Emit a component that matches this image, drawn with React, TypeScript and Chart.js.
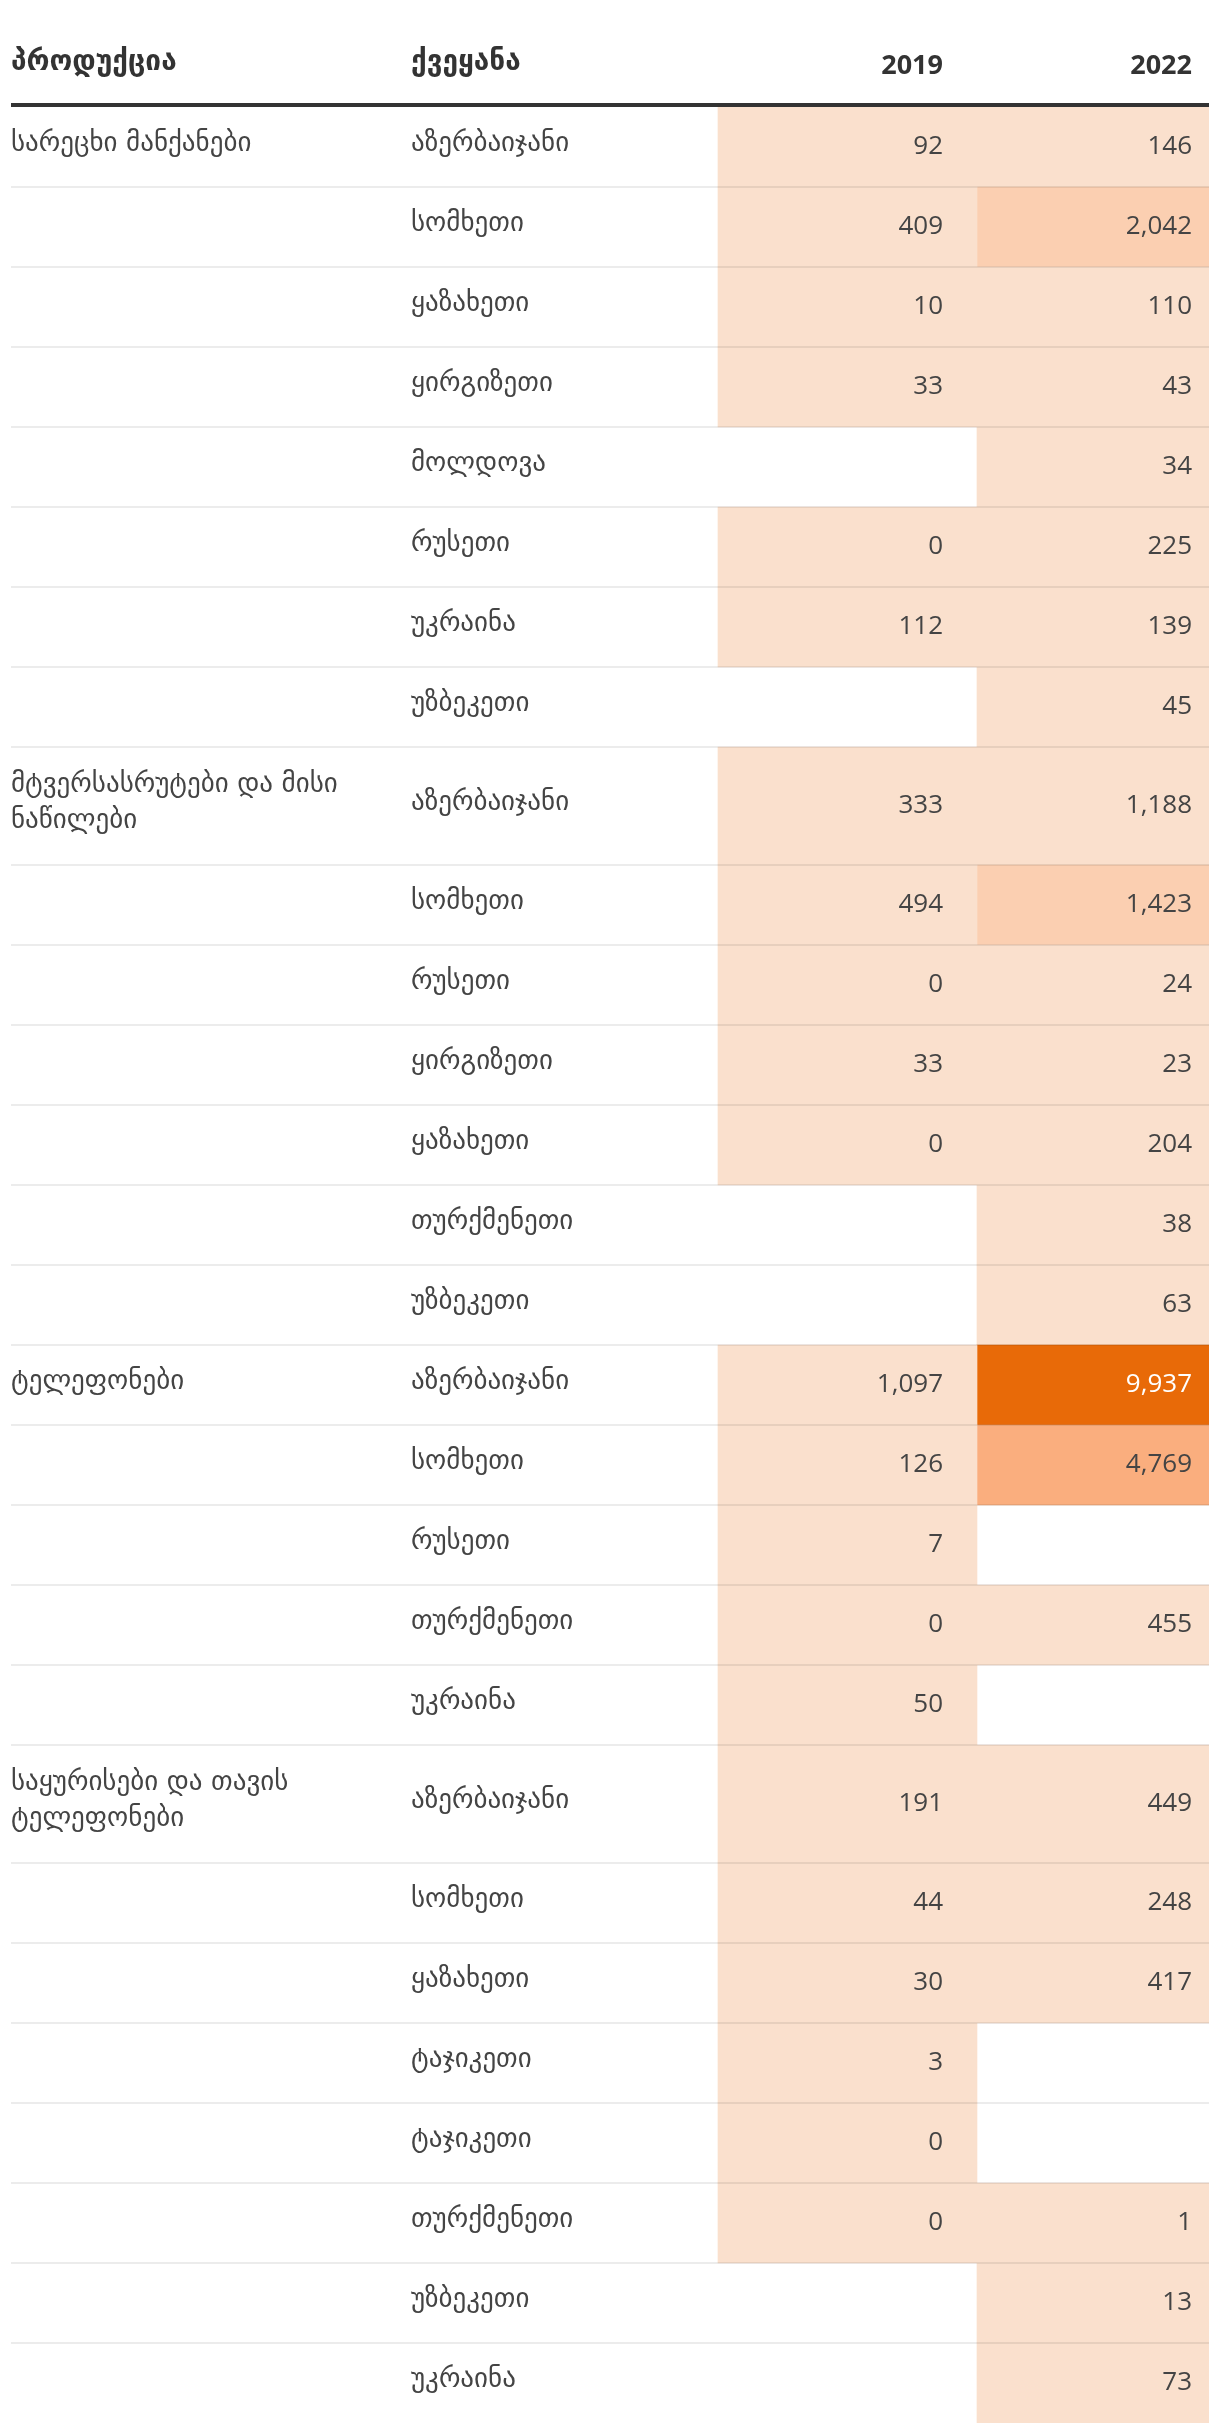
import { useEffect, useRef } from "react";
import { Chart, registerables } from "chart.js";

Chart.register(...registerables);

// ---------- data ----------
const HEADER_PRODUCT = "პროდუქცია";
const HEADER_COUNTRY = "ქვეყანა";
const YEARS = ["2019", "2022"];

const PRODUCT_LINES: string[][] = [
  ["სარეცხი მანქანები"],
  ["მტვერსასრუტები და მისი", "ნაწილები"],
  ["ტელეფონები"],
  ["საყურისები და თავის", "ტელეფონები"],
];

const COUNTRIES: string[][] = [
  ["აზერბაიჯანი", "სომხეთი", "ყაზახეთი", "ყირგიზეთი", "მოლდოვა", "რუსეთი", "უკრაინა", "უზბეკეთი"],
  ["აზერბაიჯანი", "სომხეთი", "რუსეთი", "ყირგიზეთი", "ყაზახეთი", "თურქმენეთი", "უზბეკეთი"],
  ["აზერბაიჯანი", "სომხეთი", "რუსეთი", "თურქმენეთი", "უკრაინა"],
  ["აზერბაიჯანი", "სომხეთი", "ყაზახეთი", "ტაჯიკეთი", "ტაჯიკეთი", "თურქმენეთი", "უზბეკეთი", "უკრაინა"],
];

const VALUES_2019: (number | null)[][] = [
  [92, 409, 10, 33, null, 0, 112, null],
  [333, 494, 0, 33, 0, null, null],
  [1097, 126, 7, 0, 50],
  [191, 44, 30, 3, 0, 0, null, null],
];

const VALUES_2022: (number | null)[][] = [
  [146, 2042, 110, 43, 34, 225, 139, 45],
  [1188, 1423, 24, 23, 204, 38, 63],
  [9937, 4769, null, 455, null],
  [449, 248, 417, null, null, 1, 13, 73],
];

// ---------- layout / style ----------
const CANVAS_W = 1204;
const CANVAS_H = 2424;
const PAD = { top: 99, bottom: 9, left: 3, right: 3 };
const TABLE_W = 1198;
const COL_EDGES = [0, 400, 707, 966, 1198]; // product | country | 2019 | 2022
const NUM_RIGHT_INSET = [34, 17];
const ROW_BASE = 80;
const ROW_EXTRA_LINE = 38;
const LINE_GAP = 36;

const COLOR_BINS = [
  { max: 1300, color: "#FAE0CD", text: "#444444" },
  { max: 3000, color: "#FBCFB1", text: "#444444" },
  { max: 7000, color: "#FAAE7E", text: "#444444" },
  { max: Infinity, color: "#E86A08", text: "#FFFFFF" },
];
const binFor = (v: number) => COLOR_BINS.find((b) => v < b.max)!;

const GEO_FONT = '"DejaVu Sans", sans-serif';
const NUM_FONT = '"Open Sans", "DejaVu Sans", sans-serif';

type Row = {
  product: string[] | null;
  country: string;
  vals: (number | null)[];
  top: number;
  bottom: number;
};

function buildRows(): Row[] {
  const rows: Row[] = [];
  let y = 0;
  COUNTRIES.forEach((list, g) => {
    list.forEach((c, i) => {
      const product = i === 0 ? PRODUCT_LINES[g] : null;
      const h = ROW_BASE + (product ? (product.length - 1) * ROW_EXTRA_LINE : 0);
      rows.push({ product, country: c, vals: [VALUES_2019[g][i], VALUES_2022[g][i]], top: y, bottom: y + h });
      y += h;
    });
  });
  return rows;
}

export default function App() {
  const ref = useRef<HTMLCanvasElement | null>(null);

  useEffect(() => {
    if (!ref.current) return;
    const rows = buildRows();
    const total = rows[rows.length - 1].bottom;

    const datasets = YEARS.map((yr, ci) => {
      const l = COL_EDGES[ci + 2];
      const r = COL_EDGES[ci + 3];
      return {
        label: yr,
        data: rows
          .filter((row) => row.vals[ci] !== null)
          .map((row) => ({ x: (l + r) / 2, y: [row.top, row.bottom], v: row.vals[ci] as number })),
        backgroundColor: (c: any) => (c.raw ? binFor(c.raw.v).color : "transparent"),
        barThickness: r - l,
        grouped: false,
        borderWidth: 0,
        borderSkipped: false,
      };
    });

    const tablePlugin = {
      id: "tableText",
      afterDatasetsDraw(chart: any) {
        const ctx: CanvasRenderingContext2D = chart.ctx;
        const xs = chart.scales.x;
        const ys = chart.scales.y;
        const x0 = xs.getPixelForValue(0);
        const x1 = xs.getPixelForValue(TABLE_W);
        ctx.save();

        // row separators
        ctx.fillStyle = "rgba(0,0,0,0.075)";
        rows.forEach((r, i) => {
          if (i === 0) return;
          const y = Math.round(ys.getPixelForValue(r.top));
          ctx.fillRect(x0, y - 1, x1 - x0, 2);
        });

        // header line
        const top = ys.getPixelForValue(0);
        ctx.fillStyle = "#333333";
        ctx.fillRect(x0, top - 4, x1 - x0, 4);

        // header text
        ctx.textBaseline = "alphabetic";
        ctx.fillStyle = "#333333";
        ctx.font = `bold 28px ${GEO_FONT}`;
        ctx.textAlign = "left";
        ctx.fillText(HEADER_PRODUCT, xs.getPixelForValue(COL_EDGES[0]), 62);
        ctx.fillText(HEADER_COUNTRY, xs.getPixelForValue(COL_EDGES[1]), 62);
        ctx.font = `bold 27px ${NUM_FONT}`;
        ctx.textAlign = "right";
        YEARS.forEach((yr, ci) => {
          ctx.fillText(yr, xs.getPixelForValue(COL_EDGES[ci + 3] - NUM_RIGHT_INSET[ci]), 66);
        });

        // body
        rows.forEach((r) => {
          const cy = (ys.getPixelForValue(r.top) + ys.getPixelForValue(r.bottom)) / 2;
          ctx.fillStyle = "#444444";
          ctx.font = `27px ${GEO_FONT}`;
          ctx.textAlign = "left";
          if (r.product) {
            const n = r.product.length;
            r.product.forEach((line, i) => {
              const ly = cy - 4 + (i - (n - 1) / 2) * LINE_GAP;
              ctx.fillText(line, xs.getPixelForValue(COL_EDGES[0]), ly + 8);
            });
          }
          ctx.fillText(r.country, xs.getPixelForValue(COL_EDGES[1]), cy + 4);

          ctx.font = `26px ${NUM_FONT}`;
          ctx.textAlign = "right";
          r.vals.forEach((v, ci) => {
            if (v === null) return;
            ctx.fillStyle = binFor(v).text;
            ctx.fillText(
              v.toLocaleString("en-US"),
              xs.getPixelForValue(COL_EDGES[ci + 3] - NUM_RIGHT_INSET[ci]),
              cy + 7
            );
          });
        });
        ctx.restore();
      },
    };

    const chart = new Chart(ref.current, {
      type: "bar",
      data: { datasets: datasets as any },
      options: {
        animation: false,
        responsive: true,
        maintainAspectRatio: false,
        devicePixelRatio: 1,
        layout: { padding: PAD },
        plugins: { legend: { display: false }, tooltip: { enabled: false } },
        scales: {
          x: { type: "linear", min: 0, max: TABLE_W, display: false, offset: false, grid: { offset: false } },
          y: { type: "linear", min: 0, max: total, reverse: true, display: false },
        },
      },
      plugins: [tablePlugin],
    });
    return () => chart.destroy();
  }, []);

  return (
    <div style={{ width: CANVAS_W, height: CANVAS_H, position: "relative" }}>
      <canvas ref={ref} />
    </div>
  );
}
